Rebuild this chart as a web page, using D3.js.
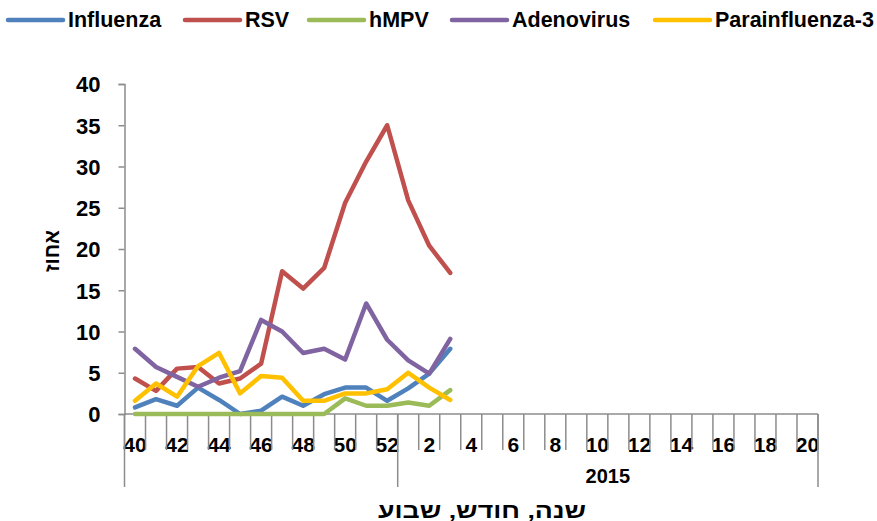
<!DOCTYPE html>
<html>
<head>
<meta charset="utf-8">
<script src="https://cdn.jsdelivr.net/npm/d3@7"></script>
<style>
  body { margin: 0; background: #fff; }
  text { font-family: Arial, "Liberation Sans", sans-serif; font-weight: bold; fill: #000; }
</style>
</head>
<body>
<div class="chart"></div>
<script>
const svgWidth = 877;
const svgHeight = 521;

// weeks 40-52 of 2014, then 1-20 of 2015
const weeks = ['40','41','42','43','44','45','46','47','48','49','50','51','52',
  '1','2','3','4','5','6','7','8','9','10','11','12','13','14','15','16','17','18','19','20'];
const years = [
  { label: '', first: '40', last: '52' },
  { label: '2015', first: '1', last: '20' }
];
const yTicks = [0, 5, 10, 15, 20, 25, 30, 35, 40];

const seriesNames = ['Influenza', 'RSV', 'hMPV', 'Adenovirus', 'Parainfluenza-3'];
const influenza = [0.8, 1.8, 1.0, 3.2, 1.7, 0.0, 0.4, 2.1, 1.0, 2.4, 3.2, 3.2, 1.6, 3.1, 4.9, 7.9];
const rsv = [4.3, 2.8, 5.5, 5.7, 3.7, 4.3, 6.1, 17.3, 15.2, 17.7, 25.6, 30.6, 35.0, 25.9, 20.4, 17.1];
const hmpv = [0, 0, 0, 0, 0, 0, 0, 0, 0, 0, 1.9, 1.0, 1.0, 1.4, 1.0, 2.9];
const adenovirus = [7.9, 5.7, 4.5, 3.3, 4.4, 5.2, 11.4, 10.0, 7.4, 7.9, 6.6, 13.4, 9.0, 6.5, 4.9, 9.1];
const parainfluenza3 = [1.6, 3.7, 2.1, 5.8, 7.4, 2.5, 4.6, 4.4, 1.6, 1.6, 2.5, 2.5, 3.0, 5.0, 3.2, 1.7];

const seriesValues = [influenza, rsv, hmpv, adenovirus, parainfluenza3];
const colors = ['#4f81bd', '#c0504d', '#9bbb59', '#8064a2', '#ffc000'];

const axisColor = '#8c8c8c';
const plot = { left: 124.5, right: 818, top: 84, bottom: 414 };

const svg = d3.select('.chart')
  .append('svg')
  .attr('width', svgWidth)
  .attr('height', svgHeight);

const xScale = d3.scaleBand()
  .domain(weeks)
  .range([plot.left, plot.right]);

const yScale = d3.scaleLinear()
  .domain([0, 40])
  .range([plot.bottom, plot.top]);

// y axis
const yAxis = svg.append('g')
  .attr('transform', `translate(${plot.left}, 0)`)
  .call(d3.axisLeft(yScale).tickValues(yTicks).tickSize(6).tickPadding(18));
yAxis.select('.domain').attr('stroke', axisColor).attr('stroke-width', 1.5);
yAxis.selectAll('.tick line').attr('stroke', axisColor).attr('stroke-width', 1.5);
yAxis.selectAll('.tick text')
  .style('font-size', '22px')
  .attr('font-family', null)
  .attr('dy', '0.36em');

// x axis: labels on every other week
const xAxis = svg.append('g')
  .attr('transform', `translate(0, ${plot.bottom})`)
  .call(d3.axisBottom(xScale)
    .tickSize(0)
    .tickPadding(0)
    .tickFormat((d, i) => i % 2 === 0 ? d : ''));
xAxis.select('.domain').remove();
xAxis.selectAll('.tick text')
  .style('font-size', '21px')
  .attr('y', 38)
  .attr('dy', 0);

// category boundary ticks
const boundaries = weeks.map(w => xScale(w)).concat([plot.right]);
svg.append('g')
  .selectAll('line')
  .data(boundaries)
  .enter()
  .append('line')
  .attr('x1', d => d)
  .attr('x2', d => d)
  .attr('y1', plot.bottom)
  .attr('y2', plot.bottom + 36)
  .attr('stroke', axisColor)
  .attr('stroke-width', 1.5);

// year group separators and labels
const groupEdges = [xScale(years[0].first), xScale(years[1].first), plot.right];
svg.append('g')
  .selectAll('line')
  .data(groupEdges)
  .enter()
  .append('line')
  .attr('x1', d => d)
  .attr('x2', d => d)
  .attr('y1', plot.bottom)
  .attr('y2', plot.bottom + 73)
  .attr('stroke', axisColor)
  .attr('stroke-width', 1.5);
svg.append('g')
  .selectAll('text')
  .data(years)
  .enter()
  .append('text')
  .attr('x', d => (xScale(d.first) + xScale(d.last) + xScale.bandwidth()) / 2)
  .attr('y', plot.bottom + 69)
  .attr('text-anchor', 'middle')
  .style('font-size', '20px')
  .text(d => d.label);

svg.append('line')
  .attr('x1', plot.left)
  .attr('x2', plot.right)
  .attr('y1', plot.bottom)
  .attr('y2', plot.bottom)
  .attr('stroke', axisColor)
  .attr('stroke-width', 1.5);

// axis titles
svg.append('text')
  .attr('x', 482)
  .attr('y', 518)
  .attr('text-anchor', 'middle')
  .attr('direction', 'rtl')
  .attr('textLength', 208)
  .attr('lengthAdjust', 'spacingAndGlyphs')
  .style('font-size', '21px')
  .text('שנה, חודש, שבוע');

svg.append('text')
  .attr('transform', 'translate(59, 251) rotate(-90)')
  .attr('text-anchor', 'middle')
  .attr('textLength', 42)
  .attr('lengthAdjust', 'spacingAndGlyphs')
  .style('font-size', '21px')
  .text('אחוז');

// lines
const line = d3.line()
  .x((d, i) => xScale(weeks[i]) + xScale.bandwidth() / 2)
  .y(d => yScale(d));

svg.append('g')
  .selectAll('path')
  .data(seriesValues)
  .enter()
  .append('path')
  .attr('d', d => line(d))
  .attr('fill', 'none')
  .attr('stroke', (d, i) => colors[i])
  .attr('stroke-width', 4.5)
  .attr('stroke-linejoin', 'round')
  .attr('stroke-linecap', 'round');

// legend
const legendX = [8, 185, 309, 452, 655];
const legend = svg.append('g')
  .selectAll('g')
  .data(seriesNames)
  .enter()
  .append('g')
  .attr('transform', (d, i) => `translate(${legendX[i]}, 20)`);
legend.append('line')
  .attr('x1', 0)
  .attr('x2', 55)
  .attr('stroke', (d, i) => colors[i])
  .attr('stroke-width', 4.5)
  .attr('stroke-linecap', 'round');
legend.append('text')
  .attr('x', 60)
  .attr('y', 7)
  .style('font-size', '21.5px')
  .text(d => d);
</script>
</body>
</html>
